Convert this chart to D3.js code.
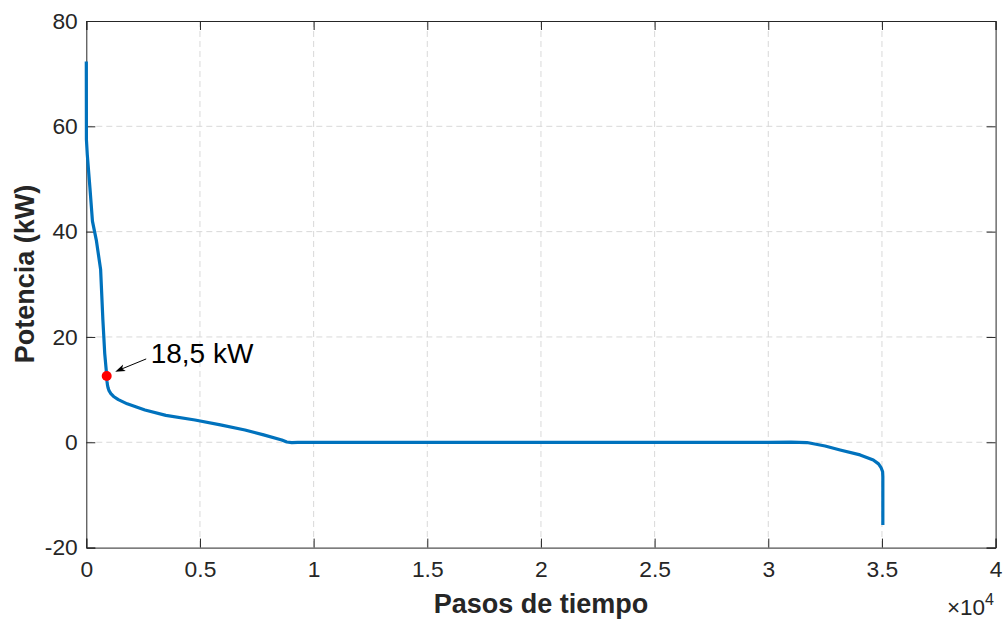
<!DOCTYPE html>
<html>
<head>
<meta charset="utf-8">
<script src="https://cdn.jsdelivr.net/npm/d3@7"></script>
<style>
  html, body { margin: 0; padding: 0; background: #fff; }
  svg { display: block; font-family: "Liberation Sans", Arial, sans-serif; }
</style>
</head>
<body>
<svg id="chart" width="1003" height="619"></svg>
<script>
// ---- data ----
const steps = [0, 5, 44, 160, 270, 440, 630, 730, 810, 880, 897, 910, 930, 960, 1000, 1080, 1200, 1410, 1800, 2580, 3500, 4780, 5900, 6980, 7800, 8600, 8820, 9040, 9300, 15000, 20000, 25000, 30000, 31000, 31700, 32500, 33160, 34040, 34620, 34850, 34960, 35030, 35040, 35040];
const power = [72.3, 57.5, 54.6, 48.3, 42.0, 38.4, 32.8, 23.2, 16.9, 13.5, 12.6, 11.6, 10.9, 10.3, 9.8, 9.25, 8.7, 8.1, 7.3, 6.13, 5.1, 4.23, 3.3, 2.34, 1.4, 0.44, 0.05, -0.05, 0, 0, 0, 0, 0, 0.02, -0.05, -0.7, -1.46, -2.4, -3.36, -4.1, -4.8, -5.6, -6.5, -15.7];
const markerStep = [897];
const markerPower = [12.6];
const annotationText = ["18,5 kW"];
const xTicks = [0, 5000, 10000, 15000, 20000, 25000, 30000, 35000, 40000];
const xTickLabels = ["0", "0.5", "1", "1.5", "2", "2.5", "3", "3.5", "4"];
const yTicks = [-20, 0, 20, 40, 60, 80];
const yTickLabels = ["-20", "0", "20", "40", "60", "80"];
const xLabel = "Pasos de tiempo";
const yLabel = "Potencia (kW)";

// ---- layout ----
const W = 1003, H = 619;
const m = { left: 86.3, top: 21, right: 7.4, bottom: 71.4 };
const pw = W - m.left - m.right, ph = H - m.top - m.bottom;
const axisColor = "#262626";

const svg = d3.select("#chart");
svg.append("rect").attr("width", W).attr("height", H).attr("fill", "#fff");
const g = svg.append("g").attr("transform", `translate(${m.left},${m.top})`);

const x = d3.scaleLinear().domain([0, 40000]).range([0, pw]);
const y = d3.scaleLinear().domain([-20, 80]).range([ph, 0]);

// grid
const grid = g.append("g");
grid.selectAll(".gx").data(xTicks.slice(1, -1)).join("line")
  .attr("x1", d => x(d)).attr("x2", d => x(d))
  .attr("y1", 0).attr("y2", ph)
  .attr("stroke", "#d9d9d9").attr("stroke-width", 1).attr("stroke-dasharray", "6,4");
grid.selectAll(".gy").data(yTicks.slice(1, -1)).join("line")
  .attr("y1", d => y(d)).attr("y2", d => y(d))
  .attr("x1", 0).attr("x2", pw)
  .attr("stroke", "#d9d9d9").attr("stroke-width", 1).attr("stroke-dasharray", "6,4");

// axes (ticks inside)
const tickLen = 9;
const xAxisB = d3.axisBottom(x).tickValues(xTicks).tickSize(-tickLen).tickFormat((d, i) => xTickLabels[i]).tickPadding(13.5);
const xAxisT = d3.axisTop(x).tickValues(xTicks).tickSize(-tickLen).tickFormat("");
const yAxisL = d3.axisLeft(y).tickValues(yTicks).tickSize(-tickLen).tickFormat((d, i) => yTickLabels[i]).tickPadding(8.5);
const yAxisR = d3.axisRight(y).tickValues(yTicks).tickSize(-tickLen).tickFormat("");

function styleAxis(sel) {
  sel.select(".domain").attr("stroke", axisColor).attr("stroke-width", 1);
  sel.selectAll(".tick line").attr("stroke", axisColor).attr("stroke-width", 1);
  sel.selectAll(".tick text").attr("fill", axisColor).style("font-size", "22.8px")
    .style("font-family", '"Liberation Sans", Arial, sans-serif');
}
g.append("g").attr("transform", `translate(0,${ph})`).call(xAxisB).call(styleAxis);
g.append("g").call(xAxisT).call(styleAxis);
g.append("g").call(yAxisL).call(styleAxis);
g.append("g").attr("transform", `translate(${pw},0)`).call(yAxisR).call(styleAxis);

// line
const data = steps.map((s, i) => ({ s, p: power[i] }));
g.append("path").datum(data)
  .attr("fill", "none").attr("stroke", "#0072BD").attr("stroke-width", 3.2)
  .attr("stroke-linejoin", "round").attr("stroke-linecap", "butt")
  .attr("d", d3.line().x(d => x(d.s)).y(d => y(d.p)));

// marker
const mx = x(markerStep[0]), my = y(markerPower[0]);
g.append("circle").attr("cx", mx).attr("cy", my).attr("r", 5).attr("fill", "#ff0000");

// annotation arrow
const ax0 = mx + 39.5, ay0 = my - 17, ax1 = mx + 8.5, ay1 = my - 4.3;
const ang = Math.atan2(ay1 - ay0, ax1 - ax0);
g.append("line").attr("x1", ax0).attr("y1", ay0).attr("x2", ax1 - 6 * Math.cos(ang)).attr("y2", ay1 - 6 * Math.sin(ang))
  .attr("stroke", "#000").attr("stroke-width", 1);
const hl = 10, hw = 3.5;
const bx = ax1 - hl * Math.cos(ang), by = ay1 - hl * Math.sin(ang);
const nx = -Math.sin(ang), ny = Math.cos(ang);
const bx2 = ax1 - hl * 0.75 * Math.cos(ang), by2 = ay1 - hl * 0.75 * Math.sin(ang);
g.append("path")
  .attr("d", `M${ax1},${ay1} L${bx + nx * hw},${by + ny * hw} L${bx2},${by2} L${bx - nx * hw},${by - ny * hw} Z`)
  .attr("fill", "#000");
g.append("text").attr("x", mx + 44).attr("y", my - 13)
  .attr("fill", "#000").style("font-size", "28px").text(annotationText[0]);

// axis labels
svg.append("text").attr("x", m.left + pw / 2).attr("y", 613).attr("text-anchor", "middle")
  .attr("fill", axisColor).style("font-size", "27px").style("font-weight", "bold").text(xLabel);
svg.append("text").attr("transform", `translate(34,274) rotate(-90)`).attr("text-anchor", "middle")
  .attr("fill", axisColor).style("font-size", "27px").style("font-weight", "bold").text(yLabel);

// exponent
const ex = svg.append("text").attr("x", 994).attr("y", 615).attr("text-anchor", "end")
  .attr("fill", axisColor).style("font-size", "22.5px");
ex.append("tspan").text("\u00d710");
ex.append("tspan").attr("dy", -10).style("font-size", "16px").text("4");
</script>
</body>
</html>
